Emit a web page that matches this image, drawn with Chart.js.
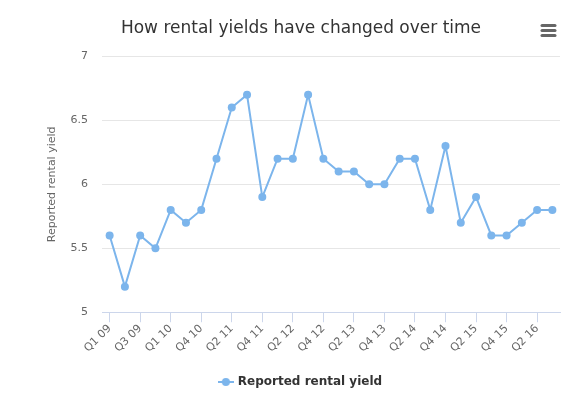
<!DOCTYPE html>
<html>
<head>
<meta charset="utf-8">
<script src="https://cdn.jsdelivr.net/npm/chart.js@4/dist/chart.umd.min.js"></script>
<style>
    html, body { margin: 0; padding: 0; background: #fff; }
    #wrap { position: relative; width: 577px; height: 398px; }
</style>
</head>
<body>
<div id="wrap"><canvas id="chart" width="577" height="398"></canvas></div>
<script>
// Données
const quarters = [
    'Q1 09', 'Q2 09', 'Q3 09', 'Q4 09', 'Q1 10', 'Q2 10', 'Q4 10', 'Q1 11',
    'Q2 11', 'Q3 11', 'Q4 11', 'Q1 12', 'Q2 12', 'Q3 12', 'Q4 12', 'Q1 13',
    'Q2 13', 'Q3 13', 'Q4 13', 'Q1 14', 'Q2 14', 'Q3 14', 'Q4 14', 'Q1 15',
    'Q2 15', 'Q3 15', 'Q4 15', 'Q1 16', 'Q2 16', 'Q3 16'
];
const rentalYield = [
    5.6, 5.2, 5.6, 5.5, 5.8, 5.7, 5.8, 6.2, 6.6, 6.7,
    5.9, 6.2, 6.2, 6.7, 6.2, 6.1, 6.1, 6.0, 6.0, 6.2,
    6.2, 5.8, 6.3, 5.7, 5.9, 5.6, 5.6, 5.7, 5.8, 5.8
];
const yTicks = [5, 5.5, 6, 6.5, 7];

const lineColor = '#7cb5ec';
const fontFamily = '"DejaVu Sans", Verdana, sans-serif';

// Icône de légende : trait + point
function legendMarker() {
    const c = document.createElement('canvas');
    c.width = 16; c.height = 10;
    const ctx = c.getContext('2d');
    ctx.strokeStyle = lineColor;
    ctx.lineWidth = 2;
    ctx.beginPath(); ctx.moveTo(0, 5); ctx.lineTo(16, 5); ctx.stroke();
    ctx.fillStyle = lineColor;
    ctx.beginPath(); ctx.arc(8, 5, 4, 0, Math.PI * 2); ctx.fill();
    return c;
}

// Menu "hamburger" en haut à droite
const menuIcon = {
    id: 'menuIcon',
    afterDraw(chart) {
        const ctx = chart.ctx;
        ctx.save();
        ctx.strokeStyle = '#666';
        ctx.lineWidth = 3;
        ctx.lineCap = 'round';
        [25.5, 30.5, 35.5].forEach(y => {
            ctx.beginPath(); ctx.moveTo(542, y); ctx.lineTo(555, y); ctx.stroke();
        });
        ctx.restore();
    }
};

new Chart(document.getElementById('chart'), {
    type: 'line',
    data: {
        labels: quarters,
        datasets: [{
            label: 'Reported rental yield',
            data: rentalYield,
            borderColor: lineColor,
            backgroundColor: lineColor,
            borderWidth: 2,
            pointRadius: 4,
            pointBackgroundColor: lineColor,
            pointBorderWidth: 0,
            tension: 0,
            fill: false
        }]
    },
    options: {
        responsive: false,
        animation: false,
        layout: { padding: { left: 42, right: 17, top: 0, bottom: 0 } },
        plugins: {
            title: {
                display: true,
                text: 'How rental yields have changed over time',
                color: '#333',
                font: { family: fontFamily, size: 17, weight: 'normal' },
                padding: { top: 18, bottom: 18 }
            },
            legend: {
                position: 'bottom',
                labels: {
                    color: '#333',
                    font: { family: fontFamily, size: 12, weight: 'bold' },
                    usePointStyle: true,
                    pointStyle: legendMarker(),
                    padding: 12
                }
            },
            tooltip: { enabled: false }
        },
        scales: {
            x: {
                offset: true,
                grid: {
                    offset: false,
                    drawOnChartArea: false,
                    drawTicks: true,
                    tickLength: 10,
                    color: '#ccd6eb'
                },
                border: { color: '#ccd6eb' },
                afterFit: axis => { axis.height += 9; },
                ticks: {
                    autoSkip: false,
                    maxRotation: 45,
                    minRotation: 45,
                    padding: 0,
                    color: '#666',
                    font: { family: fontFamily, size: 11 },
                    callback: function (value, index) {
                        return index % 2 === 0 ? this.getLabelForValue(value) : null;
                    }
                }
            },
            y: {
                min: 5,
                max: 7,
                afterBuildTicks: axis => { axis.ticks = yTicks.map(v => ({ value: v })); },
                afterFit: axis => { axis.width = 60; },
                grid: { color: '#e6e6e6', drawTicks: false },
                border: { display: false },
                ticks: {
                    padding: 14,
                    color: '#666',
                    font: { family: fontFamily, size: 11 },
                    callback: value => String(value)
                },
                title: {
                    display: true,
                    text: 'Reported rental yield',
                    color: '#666',
                    font: { family: fontFamily, size: 11 },
                    padding: { top: 4, bottom: 0 }
                }
            }
        }
    },
    plugins: [menuIcon]
});
</script>
</body>
</html>
